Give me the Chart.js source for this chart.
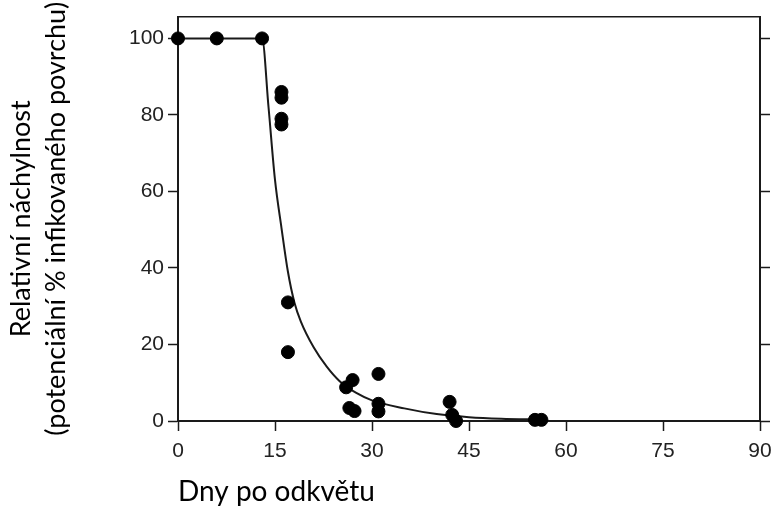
<!DOCTYPE html>
<html>
<head>
<meta charset="utf-8">
<script src="https://cdn.jsdelivr.net/npm/chart.js@4"></script>
<style>
  html, body { margin: 0; padding: 0; background: #fff; }
  #wrap { width: 777px; height: 510px; }
</style>
</head>
<body>
<div id="wrap"><canvas id="chart"></canvas></div>
<script>
// Observed data points (days after flowering, relative susceptibility)
const pointDays = [0, 6, 13, 16, 16, 16, 16, 17, 17, 26, 27, 26.5, 27.3, 31, 31, 31, 42, 42.4, 43, 55.2, 56.2];
const pointValues = [100, 100, 100, 86, 84.5, 79, 77.5, 31, 18, 8.8, 10.7, 3.4, 2.6, 12.3, 4.5, 2.5, 5, 1.6, 0, 0.3, 0.3];

// Fitted curve
const curveDays = [0, 13, 14, 15, 16, 17, 18, 19, 21, 23, 25, 27.5, 30, 35, 40, 45, 50, 56];
const curveValues = [100, 100, 82, 63, 50.5, 39, 31, 26, 19.2, 14.2, 10.4, 7.4, 5.4, 3.3, 1.8, 1.0, 0.6, 0.4];

const xTicks = [0, 15, 30, 45, 60, 75, 90];
const yTicks = [0, 20, 40, 60, 80, 100];

const xTitle = 'Dny po odkvětu';
const yTitle = ['Relativní náchylnost', '(potenciální % infikovaného povrchu)'];

const ink = '#1a1a1a';
const tickFont = { family: '"Liberation Sans", Arial, sans-serif', size: 21 };
const titleFamily = 'Lato, "Open Sans", sans-serif';

const fixTicks = list => scale => { scale.ticks = list.map(v => ({ value: v })); };

new Chart(document.getElementById('chart'), {
  type: 'scatter',
  data: {
    datasets: [
      {
        label: 'měření',
        data: pointDays.map((d, i) => ({ x: d, y: pointValues[i] })),
        backgroundColor: '#000',
        borderColor: '#000',
        pointRadius: 6.5,
        pointHoverRadius: 6.5,
        clip: false
      },
      {
        type: 'line',
        label: 'model',
        data: curveDays.map((d, i) => ({ x: d, y: curveValues[i] })),
        borderColor: ink,
        borderWidth: 2,
        pointRadius: 0,
        cubicInterpolationMode: 'monotone',
        fill: false,
        clip: false
      }
    ]
  },
  options: {
    responsive: true,
    maintainAspectRatio: false,
    animation: false,
    layout: { padding: { top: 15, left: 0, right: 0, bottom: 0 } },
    plugins: {
      legend: { display: false },
      tooltip: { enabled: false }
    },
    scales: {
      x: {
        type: 'linear',
        position: 'bottom',
        min: 0,
        max: 90,
        afterBuildTicks: fixTicks(xTicks),
        afterFit: s => { s.height = 89; s.paddingLeft = 0; s.paddingRight = 0; },
        grid: { drawOnChartArea: false, tickLength: 10, tickColor: ink, tickWidth: 1.5 },
        border: { color: ink, width: 2 },
        ticks: { color: '#222', font: tickFont, padding: 8, maxRotation: 0 },
        title: {
          display: true,
          text: xTitle,
          align: 'start',
          color: '#000',
          font: { family: titleFamily, size: 28 },
          padding: { top: 0, bottom: 1 }
        }
      },
      xTop: {
        type: 'linear',
        position: 'top',
        min: 0,
        max: 90,
        afterFit: s => { s.height = 0; s.paddingLeft = 0; s.paddingRight = 0; },
        grid: { drawOnChartArea: false, drawTicks: false },
        border: { color: ink, width: 1.5 },
        ticks: { display: false }
      },
      y: {
        type: 'linear',
        position: 'left',
        min: 0,
        max: 105.7,
        afterBuildTicks: fixTicks(yTicks),
        afterFit: s => { s.width = 178; },
        grid: { drawOnChartArea: false, tickLength: 10, tickColor: ink, tickWidth: 1.5 },
        border: { color: ink, width: 2 },
        ticks: { color: '#222', font: tickFont, padding: 4 },
        title: {
          display: true,
          text: yTitle,
          color: '#000',
          font: { family: titleFamily, size: 27, lineHeight: 1.3 },
          padding: { top: 4, bottom: 0 }
        }
      },
      yRight: {
        type: 'linear',
        position: 'right',
        min: 0,
        max: 105.7,
        afterBuildTicks: fixTicks(yTicks),
        afterFit: s => { s.width = 17; },
        grid: { drawOnChartArea: false, tickLength: 10, tickColor: ink, tickWidth: 1.5 },
        border: { color: ink, width: 2 },
        ticks: { display: false }
      }
    }
  }
});
</script>
</body>
</html>
